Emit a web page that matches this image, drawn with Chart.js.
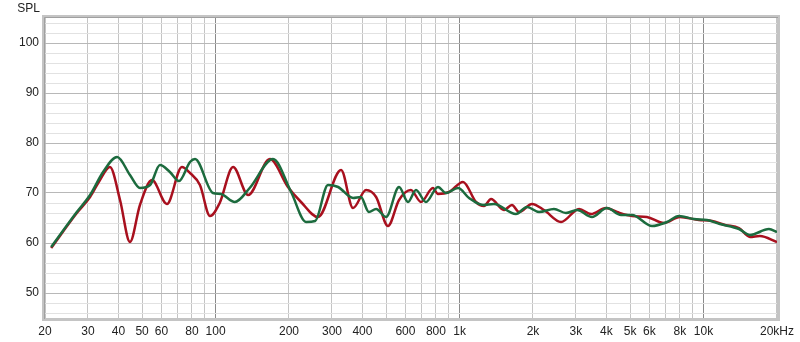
<!DOCTYPE html>
<html><head><meta charset="utf-8">
<script src="https://cdn.jsdelivr.net/npm/chart.js@4.4.0/dist/chart.umd.min.js"></script>
<style>html,body{margin:0;padding:0;background:#fff;}canvas{display:block;}</style>
</head><body>
<canvas id="c" width="800" height="342"></canvas>
<script>
const redFreq = [21.2,27,30.6,33.6,36.9,40.6,44.6,49,54.9,63.2,72.8,78.6,86.3,94.9,104,118,136,167,198,224,263,327,366,414,455,509,565,632,695,778,816,906,1033,1168,1260,1346,1520,1640,1753,1981,2218,2606,3090,3460,3980,4420,5090,5860,6890,8000,9570,10840,12250,13970,15490,17020,20000];
const redSpl = [59.0,66.0,69.2,72.6,75.2,68.6,60.2,67.6,72.6,67.8,75.2,74.0,71.6,65.4,68.0,75.2,69.6,76.8,71.2,68.2,65.2,74.6,67.0,70.6,69.2,63.4,68.6,70.6,68.2,71.0,69.8,70.2,72.2,68.2,67.4,68.8,66.6,67.6,66.2,67.8,66.6,64.2,66.8,65.8,67.0,66.2,65.4,65.2,64.0,65.2,64.6,64.4,63.6,63.0,61.2,61.4,60.2];
const greenFreq = [21.2,27,30.6,34.6,39.5,44.6,49,53.9,59.2,65,70.8,78.6,82.4,97.6,105,120,138,172,204,235,256,289,318,366,394,425,455,500,565,615,663,728,816,880,986,1094,1248,1384,1702,1890,2118,2438,2730,3030,3490,4020,4590,5090,6150,7080,7930,9140,10330,11670,13970,15490,18540,20000];
const greenSpl = [59.2,66.2,69.6,74.2,77.2,73.6,71.0,71.6,75.6,74.2,72.4,76.2,76.8,70.0,69.8,68.2,71.0,76.8,70.2,64.2,64.4,71.6,71.2,69.0,69.2,66.2,66.8,65.2,71.2,68.2,70.6,68.2,71.2,70.0,71.0,69.0,67.6,67.8,65.8,67.2,66.2,66.8,66.0,66.6,65.2,67.0,65.6,65.6,63.4,64.2,65.4,64.8,64.6,63.8,62.8,61.6,62.8,62.2];

const xGridValues = [20,30,40,50,60,70,80,90,100,200,300,400,500,600,700,800,900,1000,2000,3000,4000,5000,6000,7000,8000,9000,10000,20000];
const xLabelValues = [20,30,40,50,60,80,100,200,300,400,600,800,1000,2000,3000,4000,5000,6000,8000,10000,20000];
const xLabelTexts = ['20','30','40','50','60','80','100','200','300','400','600','800','1k','2k','3k','4k','5k','6k','8k','10k','20kHz'];
const xMajorValues = [100,1000,10000];
const yGridValues = [46,48,50,52,54,56,58,60,62,64,66,68,70,72,74,76,78,80,82,84,86,88,90,92,94,96,98,100,102,104];
const yLabelValues = [50,60,70,80,90,100];
const yLabelTexts = ['50','60','70','80','90','100'];

const FONT = {family:'"Liberation Sans", Arial, sans-serif', size:12};

function pts(fs, vs){ return fs.map((f,i)=>({x:f, y:vs[i]})); }

const framePlugin = {
  id:'frame',
  afterDatasetsDraw(chart){
    const {ctx, chartArea:a} = chart;
    ctx.save();
    ctx.strokeStyle = '#c4c4c4';
    ctx.lineWidth = 3;
    ctx.strokeRect(a.left-1.5, a.top-1.5, a.right-a.left+3, a.bottom-a.top+3);
    ctx.strokeStyle = '#a0a0a0';
    ctx.lineWidth = 1;
    ctx.beginPath();
    ctx.moveTo(a.left-0.5, a.bottom+1);
    ctx.lineTo(a.left-0.5, a.top-0.5);
    ctx.lineTo(a.right+1, a.top-0.5);
    ctx.stroke();
    ctx.restore();
  },
  afterDraw(chart){
    const ctx = chart.ctx;
    ctx.save();
    ctx.fillStyle = '#222';
    ctx.font = '12px "Liberation Sans", Arial, sans-serif';
    ctx.textAlign = 'right';
    ctx.textBaseline = 'middle';
    ctx.fillText('SPL', 40, 9);
    ctx.restore();
  }
};

new Chart(document.getElementById('c'), {
  type:'line',
  data:{
    datasets:[
      {label:'green', data:pts(greenFreq, greenSpl), borderColor:'#1c6b3e', borderWidth:2.5, pointRadius:0, fill:false, cubicInterpolationMode:'monotone'},
      {label:'red', data:pts(redFreq, redSpl), borderColor:'#a8101e', borderWidth:2.5, pointRadius:0, fill:false, cubicInterpolationMode:'monotone'}
    ]
  },
  options:{
    responsive:false,
    animation:false,
    layout:{padding:{top:18, right:23, left:0, bottom:0}},
    plugins:{legend:{display:false}, tooltip:{enabled:false}},
    scales:{
      x:{
        type:'logarithmic', min:20, max:20000,
        afterBuildTicks:s=>{ s.ticks = xGridValues.map(v=>({value:v})); },
        afterFit:s=>{ s.height = 24; },
        ticks:{autoSkip:false, maxRotation:0, minRotation:0, padding:6, color:'#222', font:FONT,
          callback:(v)=>{ const i = xLabelValues.indexOf(v); return i>=0 ? xLabelTexts[i] : ''; }},
        grid:{drawTicks:false, lineWidth:1, color:ctx=> (ctx.tick && xMajorValues.includes(ctx.tick.value)) ? '#8a8a8a' : '#c4c4c4'},
        border:{display:false}
      },
      y:{
        type:'linear', min:45, max:105,
        afterBuildTicks:s=>{ s.ticks = yGridValues.map(v=>({value:v})); },
        afterFit:s=>{ s.width = 45; },
        ticks:{autoSkip:false, padding:6, color:'#222', font:FONT,
          callback:(v)=>{ const i = yLabelValues.indexOf(v); return i>=0 ? yLabelTexts[i] : ''; }},
        grid:{drawTicks:false, lineWidth:1, color:ctx=> (ctx.tick && ctx.tick.value % 10 === 0) ? '#b8b8b8' : '#e2e2e2'},
        border:{display:false}
      }
    }
  },
  plugins:[framePlugin]
});
</script>
</body></html>
